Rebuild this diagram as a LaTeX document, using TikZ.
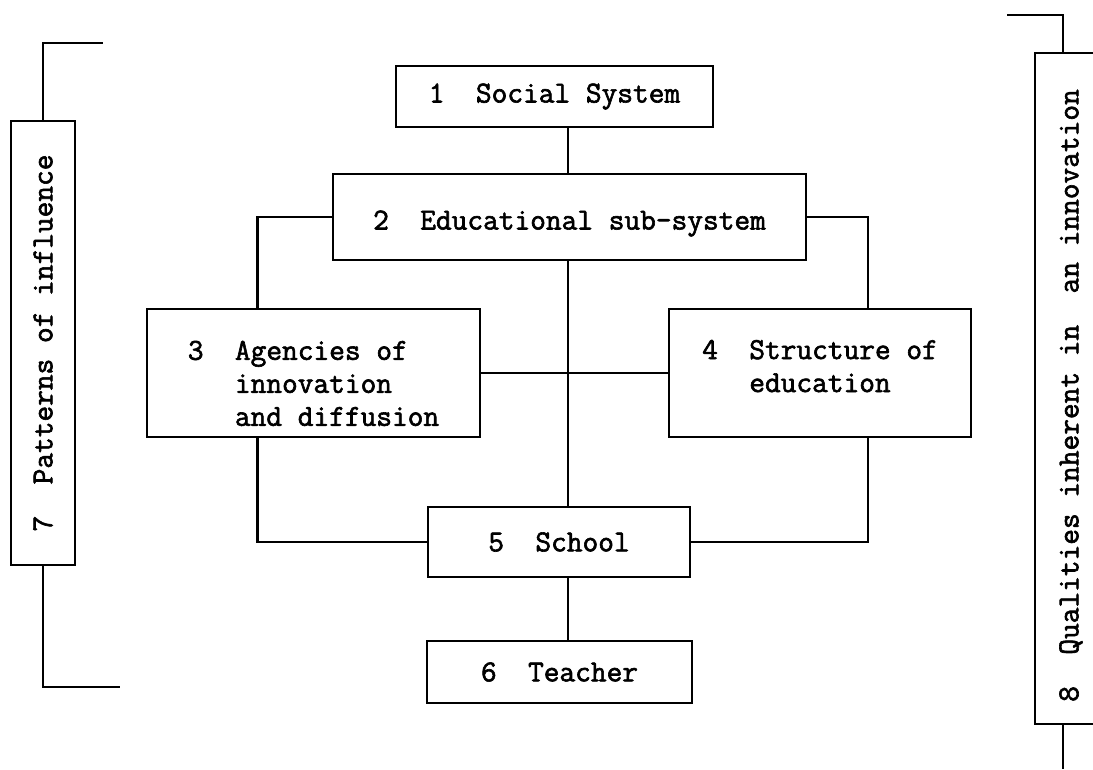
\documentclass[tikz,border=0pt]{standalone}
\usepackage{fontspec}
\newfontfamily\typer{Latin Modern Mono}[FakeBold=2]
\newcommand{\TW}{\fontsize{30.5}{33}\selectfont\typer}

\begin{document}
\begin{tikzpicture}[x=1pt,y=-1pt]
\tikzstyle{box}=[draw,line width=2.8pt,fill=none,inner sep=0pt,align=left,font=\TW]
\tikzstyle{line}=[black,line width=2.6pt]

\useasboundingbox (0,0) rectangle (1093,769);
\clip (0,0) rectangle (1093,769);

% the chain in the middle
\node[box,minimum width=317pt,minimum height=61pt] (b1) at (554.5,96.5) {1\ \ Social System};
\node[box,minimum width=473pt,minimum height=86pt] (b2) at (569.5,217)
  {\rule{0pt}{32pt}2\ \ Educational sub-system};
\node[box,minimum width=333pt,minimum height=128pt] (b3) at (313.5,373)
  {\rule{0pt}{40pt}3\ \ Agencies of\\\phantom{3\ \ }innovation\\\phantom{3\ \ }and diffusion};
\node[box,minimum width=302pt,minimum height=128pt] (b4) at (820,373)
  {4\ \ Structure of\\\phantom{4\ \ }education\rule[-14pt]{0pt}{14pt}};
\node[box,minimum width=262pt,minimum height=70pt] (b5) at (559,542) {5\ \ School};
\node[box,minimum width=265pt,minimum height=62pt] (b6) at (559.5,672) {6\ \ Teacher};

% side boxes
\node[box,rotate=90,minimum width=444pt,minimum height=64pt] (b7) at (43,343) {7\ \ Patterns of influence};
\node[box,rotate=90,minimum width=671pt,minimum height=72pt] (b8) at (1071,388.5)
  {8\ \ Qualities inherent in\ \ an innovation\hspace*{14pt}};

\coordinate (axis) at (568,0);
\draw[line] (b1.south -| axis) -- (b2.north -| axis);
\draw[line] (b2.south -| axis) -- (b5.north -| axis);
\draw[line] (b5.south -| axis) -- (b6.north -| axis);
\draw[line] (b2.west) -| ([xshift=-56pt]b3.north);
\draw[line] (b2.east) -| ([xshift=48pt]b4.north);
\draw[line] (b3.east) -- (b4.west);
\draw[line] ([xshift=-56pt]b3.south) |- (b5.west);
\draw[line] ([xshift=48pt]b4.south) |- (b5.east);

% brackets
\coordinate (t7) at (103,43);
\coordinate (u7) at (120,687);
\draw[line] (b7.east) |- (t7);
\draw[line] (b7.west) |- (u7);
\coordinate (t8) at (1007,15);
\coordinate (u8) at (1063,769);
\draw[line] ([xshift=-8pt]b8.east) |- (t8);
\draw[line] ([xshift=-8pt]b8.west) -- (u8);
\end{tikzpicture}
\end{document}
